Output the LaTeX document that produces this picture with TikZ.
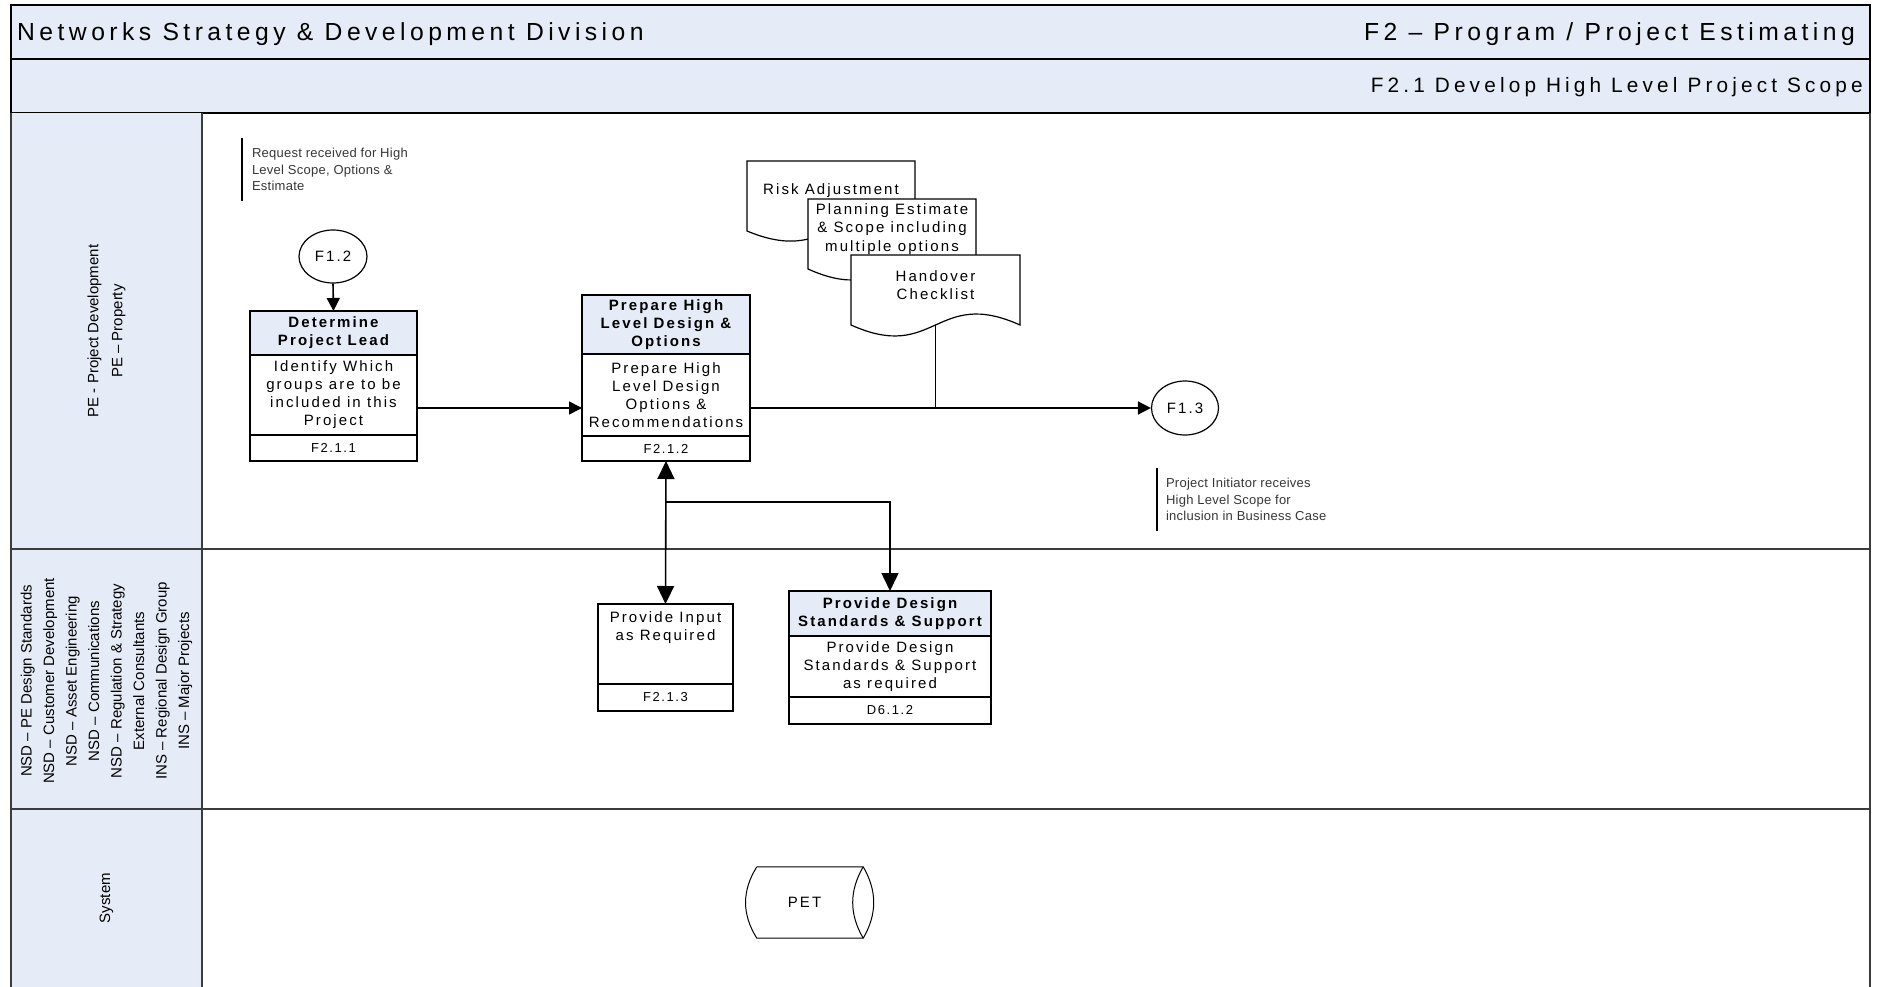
\documentclass[tikz,border=0pt]{standalone}
\usepackage{fontspec}
\setmainfont{Liberation Sans}
\newfontfamily\titlefont[LetterSpace=18]{Liberation Sans}
\newfontfamily\subtfont[LetterSpace=20]{Liberation Sans}
\newfontfamily\boxfont[LetterSpace=14]{Liberation Sans}
\newfontfamily\footfont[LetterSpace=12]{Liberation Sans}
\newfontfamily\notefont[LetterSpace=2]{Liberation Sans}
\usetikzlibrary{arrows.meta,shapes.geometric,calc}
\definecolor{lightblue}{RGB}{230,236,247}
\definecolor{laneline}{RGB}{60,60,60}
\definecolor{notegray}{RGB}{55,55,55}
\newcommand{\docshape}[2]{%
  \filldraw[docline] (#1.north west) -- ($(#1.south west)+(0,10)$)
    .. controls ($(#1.south)+(0,10+#2)$) and ($(#1.south)+(0,10-#2)$) ..
    ($(#1.south east)+(0,10)$) -- (#1.north east) -- cycle;}
\begin{document}
\begin{tikzpicture}[x=1pt,y=-1pt,
  frameline/.style={draw=black,line width=1.5pt},
  laneln/.style={draw=laneline,line width=1.8pt},
  hdr/.style={draw=black,line width=1.5pt,fill=lightblue,inner sep=0pt,outer sep=0pt,align=center,anchor=north,font=\boxfont\bfseries\fontsize{15}{18}\selectfont},
  bdy/.style={draw=black,line width=1.5pt,fill=white,inner sep=0pt,outer sep=0pt,align=center,anchor=north,font=\boxfont\fontsize{15}{18}\selectfont},
  ftr/.style={draw=black,line width=1.5pt,fill=white,inner sep=0pt,outer sep=0pt,align=center,anchor=north,font=\footfont\fontsize{13}{15}\selectfont},
  docbox/.style={inner sep=0pt,outer sep=0pt,anchor=north west},
  docline/.style={draw=black,line width=1.2pt,fill=white},
  doctext/.style={inner sep=0pt,align=center,font=\boxfont\fontsize{15}{18.5}\selectfont},
  conn/.style={draw=black,line width=1.6pt},
  arr/.style={conn,-{Triangle[length=13pt,width=13pt]}},
  bigarr/.style={conn,-{Triangle[length=18pt,width=17pt]}},
  bigdbl/.style={conn,{Triangle[length=18pt,width=17pt]}-{Triangle[length=18pt,width=17pt]}},
  offpage/.style={ellipse,draw=black,line width=1.2pt,fill=white,inner sep=0pt,font=\boxfont\fontsize{15}{18}\selectfont},
  note/.style={anchor=north west,inner ysep=0pt,outer sep=0pt,align=left,text=notegray,font=\notefont\fontsize{13}{16.3}\selectfont},
  lanelbl/.style={rotate=90,align=center,inner sep=0pt,font=\fontsize{15}{24}\selectfont},
  titletext/.style={inner sep=0pt,font=\titlefont\fontsize{24.7}{28}\selectfont},
]
\useasboundingbox (0,0) rectangle (1885,987);
\fill[white] (0,0) rectangle (1885,987);
% frame and lanes
\filldraw[fill=lightblue,frameline] (11,5) rectangle (1870,59);
\filldraw[fill=lightblue,frameline] (11,59) rectangle (1870,113);
\fill[lightblue] (11,113) rectangle (202,987);
\draw[laneln] (11,113) -- (11,987);
\draw[laneln] (202,113) -- (202,987);
\draw[laneln] (1870,113) -- (1870,987);
\draw[laneln] (11,549) -- (1870,549);
\draw[laneln] (11,809) -- (1870,809);

% titles
\node[titletext,anchor=west] (title) at (17,34) {Networks Strategy \& Development Division};
\node[titletext,anchor=east] (ptitle) at (1855,34) {F2 – Program / Project Estimating};
\node[inner sep=0pt,anchor=east,font=\subtfont\fontsize{20.8}{24}\selectfont] (subtitle) at (1863,87) {F2.1 Develop High Level Project Scope};

% lane labels
\node[lanelbl] (lane1) at (106.5,331) {PE - Project Development\\PE – Property};
\node[lanelbl,font=\fontsize{15}{22.5}\selectfont] (lane2) at (106.5,681) {NSD – PE Design Standards\\NSD – Customer Development\\NSD – Asset Engineering\\NSD – Communications\\NSD – Regulation \& Strategy\\External Consultants\\INS – Regional Design Group\\INS – Major Projects};
\node[lanelbl] (lane3) at (106.5,898) {System};

% annotations
\node[note,inner xsep=10pt,minimum height=63pt] (note1) at (242,138) {Request received for High\\Level Scope, Options \&\\Estimate};
\draw[line width=1.2pt] (note1.north west) -- (note1.south west);
\node[note,inner xsep=9pt,minimum height=63pt] (note2) at (1157,468) {Project Initiator receives\\High Level Scope for\\inclusion in Business Case};
\draw[line width=1.2pt] (note2.north west) -- (note2.south west);

% off-page connectors
\node[offpage,minimum width=68pt,minimum height=53pt] (f12) at (333,256.5) {F1.2};
\node[offpage,minimum width=67pt,minimum height=54pt] (f13) at (1185,408) {F1.3};

% process boxes
\node[hdr,minimum width=167pt,minimum height=44pt] (b1h) at (333.5,311) {Determine\\Project Lead};
\node[bdy,minimum width=167pt,minimum height=80pt] (b1b) at (b1h.south) {Identify Which\\groups are to be\\included in this\\Project};
\node[ftr,minimum width=167pt,minimum height=26pt] (b1f) at (b1b.south) {F2.1.1};

\node[hdr,minimum width=168pt,minimum height=59pt] (b2h) at (666,295) {Prepare High\\Level Design \&\\Options};
\node[bdy,minimum width=168pt,minimum height=82pt] (b2b) at (b2h.south) {Prepare High\\Level Design\\Options \&\\Recommendations};
\node[ftr,minimum width=168pt,minimum height=25pt] (b2f) at (b2b.south) {F2.1.2};

\node[bdy,minimum width=135pt,minimum height=80pt] (b3b) at (665.5,604) {Provide Input\\as Required\\~\\~};
\node[ftr,minimum width=135pt,minimum height=27pt] (b3f) at (b3b.south) {F2.1.3};

\node[hdr,minimum width=202pt,minimum height=45pt] (b4h) at (890,591) {Provide Design\\Standards \& Support};
\node[bdy,minimum width=202pt,minimum height=61pt] (b4b) at (b4h.south) {Provide Design\\Standards \& Support\\as required};
\node[ftr,minimum width=202pt,minimum height=27pt] (b4f) at (b4b.south) {D6.1.2};

% documents
\node[docbox,minimum width=168pt,minimum height=60pt] (ra) at (747,161) {};
\docshape{ra}{35}
\node[doctext] (ratxt) at (ra.center) {Risk Adjustment};
\node[docbox,minimum width=168pt,minimum height=60pt] (pe) at (808,199) {};
\docshape{pe}{38}
\node[doctext] (petxt) at (pe.center) {Planning Estimate\\\& Scope including\\multiple options};
\node[docbox,minimum width=169pt,minimum height=60pt] (ho) at (851,255) {};
\docshape{ho}{38}
\node[doctext] (hotxt) at (ho.center) {Handover\\Checklist};

% database
\node[inner sep=0pt,minimum width=117pt,minimum height=71pt,font=\boxfont\fontsize{15}{18}\selectfont] (pet) at (804.5,902.5) {PET};
\draw[line width=1pt] ($(pet.north west)+(11,0)$) -- (pet.north east)
  .. controls ($(pet.north east)+(14,24)$) and ($(pet.south east)+(14,-24)$) .. (pet.south east)
  -- ($(pet.south west)+(11,0)$)
  .. controls ($(pet.south west)+(-4,-24)$) and ($(pet.north west)+(-4,24)$) .. ($(pet.north west)+(11,0)$);
\draw[line width=1pt] (pet.north east)
  .. controls ($(pet.north east)+(-14,24)$) and ($(pet.south east)+(-14,-24)$) .. (pet.south east);

% connectors
\draw[arr] (f12.south) -- (b1h.north);
\draw[arr] (b1b.east |- f13.west) -- (b2b.west |- f13.west);
\draw[arr] (b2b.east |- f13.west) -- (f13.west);
\draw[conn] ($(ho.south)+(0,10)$) -- (ho.south |- f13.west);
\draw[bigdbl] (b2f.south) -- (b3b.north);
\coordinate (split) at (666,502);
\draw[bigarr] (split) -| (b4h.north);
\end{tikzpicture}
\end{document}
